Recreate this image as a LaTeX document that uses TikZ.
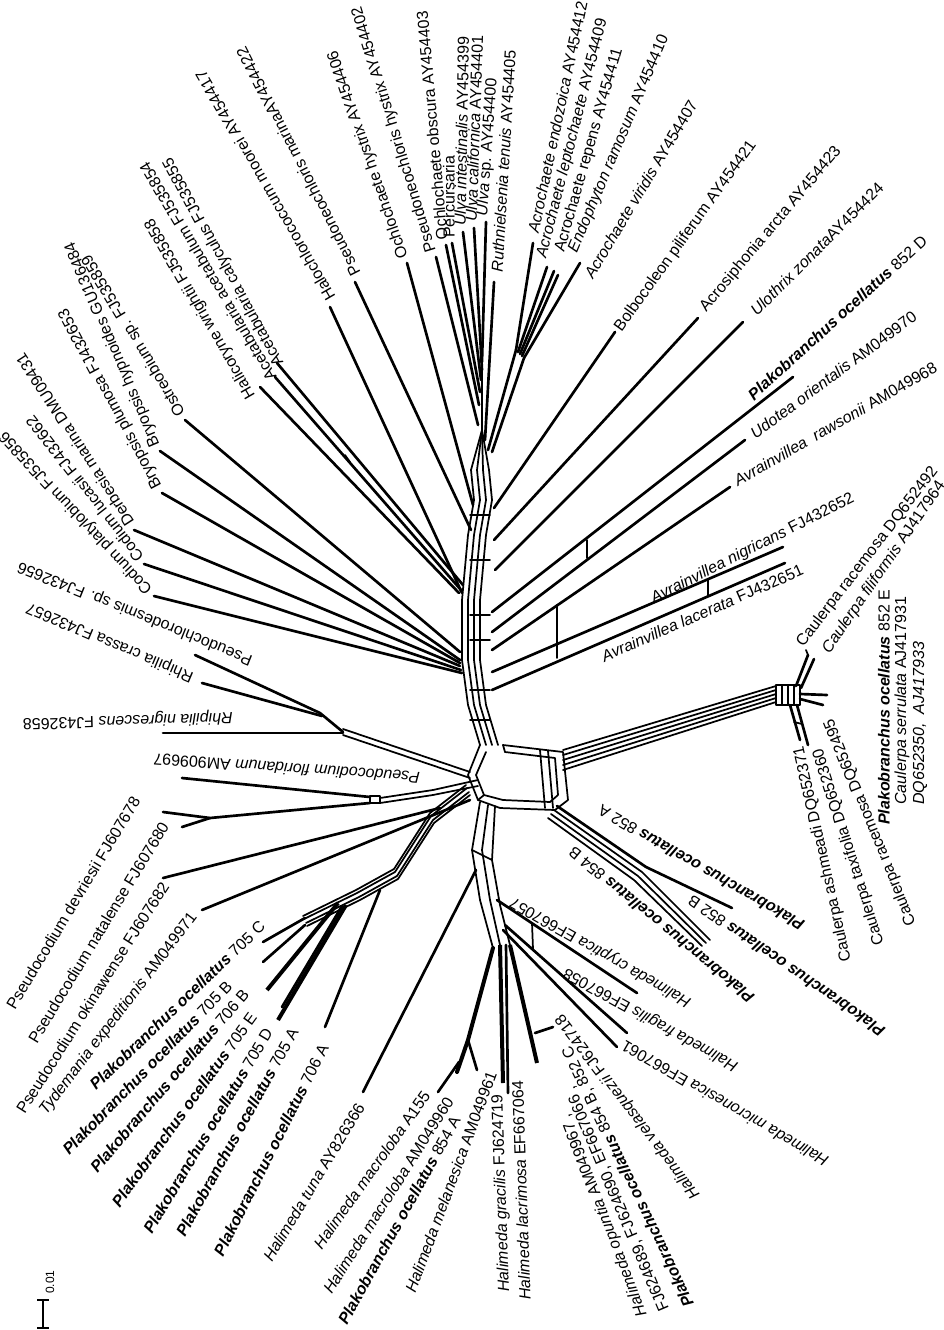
\documentclass[tikz,border=0pt]{standalone}
\usepackage{fontspec}
\setmainfont{Liberation Sans}
\newcommand{\plak}{\textbf{\textit{Plakobranchus ocellatus}}}
\newcommand{\leaflabel}[4]{\node[lbl,rotate=#3] (#1) at (#2) {#4};}
\begin{document}
\begin{tikzpicture}[x=0.75pt,y=-0.75pt,
  edge/.style={line width=2pt,line cap=round,line join=round},
  net/.style={line width=1.3pt,line cap=round,line join=round},
  lbl/.style={anchor=west,inner sep=0pt,font=\fontsize{12}{14}\selectfont}]
\fill[white] (0,0) rectangle (944,1330);
\useasboundingbox (0,0) rectangle (944,1330);

% ---------------- central spine (bundle of parallel splits)
\draw[edge] (482,360) -- (482,430);
\foreach \s in {-10,-4,2,8}{
  \draw[net] (482,430) -- (481+\s,470);
  \draw[net,shift={(\s,0)}] (481,470) -- (484,500) -- (478,535) -- (472,600) -- (472,660) -- (478,705) -- (490,745);
}
\foreach \y in {515,560,615,640,690,720}{\draw[net] (470,\y) -- (490,\y);}

% ---------------- top fan
\draw[edge] (330,307) -- (462,593);
\draw[edge] (355,282) -- (471,530);
\draw[edge] (407,263) -- (473,505);
\draw[edge] (436,257) -- (478,425);
\draw[edge] (446,245) -- (479,405);
\draw[edge] (452,243) -- (480,392);
\draw[edge] (463,232) -- (481,380);
\draw[edge] (474,228) -- (482,370);
\draw[edge] (486,222) -- (482,362);
\draw[edge] (494,282) -- (485,440);
\draw[edge] (533,243) -- (516,350);
\draw[edge] (547,267) -- (518,352);
\draw[edge] (554,271) -- (520,354);
\draw[edge] (558,275) -- (522,356);
\draw[edge] (580,263) -- (524,358);
\draw[edge] (516,350) -- (488,450);
\draw[edge] (524,358) -- (492,452);
\draw[edge] (615,332) -- (494,508);
\draw[edge] (698,318) -- (494,540);
\draw[edge] (743,322) -- (495,570);
\draw[edge] (793,377) -- (492,612);
\draw[edge] (745,440) -- (492,632);
\draw[edge] (730,487) -- (492,650);
\draw[edge] (783,547) -- (492,672);
\draw[edge] (785,563) -- (492,690);
\draw[net] (708,579) -- (708,596);
\draw[net] (557,605) -- (557,658);
\draw[net] (587,540) -- (587,558);

% ---------------- upper left (Bryopsidales, Dasycladales)
\draw[edge] (260,387) -- (459,593);
\draw[edge] (275,377) -- (461,590);
\draw[edge] (277,363) -- (463,585);
\draw[net] (345,455) -- (350,462);
\draw[edge] (185,420) -- (460,652);
\draw[edge] (160,451) -- (460,660);
\draw[edge] (162,493) -- (460,663);
\draw[edge] (134,530) -- (460,666);
\draw[edge] (144,564) -- (461,670);
\draw[edge] (154,596) -- (462,673);

% ---------------- centre
\draw[net] (480,745) -- (468,775) -- (478,800) -- (500,808) -- (555,810) -- (568,800) -- (563,752) -- (503,745);
\draw[net] (486,752) -- (476,775) -- (484,795) -- (503,800) -- (550,802) -- (558,795) -- (555,758) -- (505,752);
\draw[net] (540,750) -- (545,808);
\draw[net] (548,751) -- (553,808);
\draw[net] (503,745) -- (505,752);
\draw[net] (478,800) -- (484,795);

% ---------------- Caulerpa branch
\foreach \k in {0,...,4}{\draw[net] (563,750+5*\k) -- (776,686+4*\k);}
\draw[net] (776,685) rectangle (800,705);
\foreach \x in {782,788,794}{\draw[net] (\x,685) -- (\x,705);}
\draw[edge] (796,686) -- (808,655);
\draw[edge] (801,688) -- (814,659);
\draw[net] (806,650) -- (808,655);
\draw[edge] (800,694) -- (827,695);
\draw[edge] (800,699) -- (823,705);
\draw[edge] (790,705) -- (800,740);
\draw[edge] (797,705) -- (808,745);
\draw[net] (794,722) -- (802,724);

% ---------------- Plakobranchus 852/854 branch
\draw[edge] (557,806) -- (646,867) -- (732,908);
\draw[net] (554,810) -- (642,872) -- (710,940);
\draw[net] (551,814) -- (638,876) -- (706,943);
\draw[net] (548,818) -- (634,880) -- (702,946);

% ---------------- Halimeda trunk
\draw[net] (480,802) -- (472,850) -- (480,900) -- (493,948);
\draw[net] (488,805) -- (482,850) -- (490,900) -- (500,945);
\draw[net] (495,806) -- (492,860) -- (500,905) -- (510,945);
\draw[net] (472,850) -- (492,860);
\draw[line width=3pt,line cap=round] (493,948) -- (468,1040) -- (457,1072);
\draw[edge] (468,1040) -- (477,1070);
\draw[edge] (459,1062) -- (438,1092);
\draw[line width=3pt] (500,945) -- (503,1083);
\draw[edge] (506,945) -- (508,1093);
\draw[line width=3pt] (510,945) -- (537,1063);
\draw[edge] (535,1033) -- (553,1027);
\draw[edge] (476,870) -- (363,1092);
\draw[edge] (497,900) -- (637,993);
\draw[edge] (505,925) -- (627,1033);
\draw[edge] (503,930) -- (617,1047);
\draw[net] (532,923) -- (533,949);

% ---------------- Plakobranchus 705/706 branch
\foreach \dx/\dy in {-2/-5,-1/-2,1/2,2/5}{
  \draw[net,shift={(\dx,\dy)}] (468,790) -- (432,818) -- (396,874) -- (358,895) -- (305,921);
}
\draw[edge] (305,918) -- (263,942);
\draw[edge] (305,925) -- (263,962);
\draw[line width=3pt] (338,903) -- (267,990);
\draw[edge] (342,906) -- (282,1007);
\draw[line width=3pt] (346,905) -- (278,1020);
\draw[edge] (380,890) -- (325,1027);

% ---------------- Pseudocodium, Tydemania
\draw[net] (478,780) -- (433,790) -- (380,798);
\draw[net] (478,786) -- (433,795) -- (380,803);
\draw[net] (370,796) rectangle (380,803);
\draw[edge] (370,797) -- (182,778);
\draw[edge] (370,803) -- (210,818) -- (163,812);
\draw[edge] (210,818) -- (182,827);
\draw[edge] (440,808) -- (163,878);
\draw[edge] (470,800) -- (202,910);

% ---------------- Rhipilia, Pseudochlorodesmis
\draw[net] (470,772) -- (343,729);
\draw[net] (470,778) -- (343,735);
\draw[edge] (343,732) -- (320,713) -- (195,655);
\draw[edge] (322,716) -- (202,683);
\draw[edge] (343,733) -- (163,733);

% ---------------- scale bar
\draw[line width=1.6pt] (43,1300) -- (43,1328);
\draw[line width=1.6pt] (37,1300) -- (49,1300);
\draw[line width=1.6pt] (37,1328) -- (49,1328);
\node[inner sep=0pt,rotate=90,font=\fontsize{9}{10}\selectfont] (scale) at (50,1282) {0.01};

% ---------------- labels
\leaflabel{n1}{331,300}{120}{Halochlorococcum moorei AY454417}
\leaflabel{n2}{356,275}{117}{Pseudoneochloris marinaAY454422}
\leaflabel{n3}{404,258}{109}{Ochlochaete hystrix AY454406}
\leaflabel{n4}{432,252}{107}{Pseudoneochloris hystrix AY454402}
\leaflabel{n5}{442,240}{95}{Ochlochaete obscura AY454403}
\leaflabel{n6}{449,238}{90}{Percursaria}
\leaflabel{n7}{460,226}{89}{\textit{Ulva intestinalis} AY454399}
\leaflabel{n8}{471,222}{88}{\textit{Ulva californica} AY454401}
\leaflabel{n9}{483,216}{86}{\textit{Ulva} sp. AY454400}
\leaflabel{n10}{497,272}{86.6}{\textit{Ruthnielsenia tenuis} AY454405}
\leaflabel{n11}{533,233}{78}{\textit{Acrochaete endozoica} AY454412}
\leaflabel{n12}{542,258}{75.7}{\textit{Acrochaete leptochaete} AY454409}
\leaflabel{n13}{560,252}{74}{Acrochaete repens AY454411}
\leaflabel{n14}{573,252}{67}{\textit{Endophyton ramosum} AY454410}
\leaflabel{n15}{588,277}{59}{\textit{Acrochaete viridis} AY454407}
\leaflabel{n16}{618,330}{54.2}{Bolbocoleon piliferum AY454421}
\leaflabel{n17}{703,310}{50}{Acrosiphonia arcta AY454423}
\leaflabel{n18}{753,313}{45}{\textit{Ulothrix zonata}AY454424}
\leaflabel{n19}{750,397}{42.3}{\plak{} 852 D}
\leaflabel{n20}{752,435}{36.5}{\textit{Udotea orientalis} AM049970}
\leaflabel{n21}{735,482}{30}{\textit{Avrainvillea}~\ \textit{rawsonii} AM049968}
\leaflabel{n22}{652,600}{27}{\textit{Avrainvillea nigricans} FJ432652}
\leaflabel{n23}{602,657}{23.7}{\textit{Avrainvillea lacerata} FJ432651}
\leaflabel{n24}{800,645}{52.5}{Caulerpa racemosa DQ652492}
\leaflabel{n25}{826,652}{55.5}{\textit{Caulerpa filiformis} AJ417964}
\leaflabel{n26}{884,825}{90}{\plak{} 852 E}
\leaflabel{n27}{902,805}{90}{\textit{Caulerpa serrulata} AJ417931}
\leaflabel{n28}{920,805}{90}{\textit{DQ652350,~\ AJ417933}}
\leaflabel{n29}{847,962}{102.5}{Caulerpa ashmeadi DQ652371}
\leaflabel{n30}{880,945}{107.5}{Caulerpa taxifolia DQ652360}
\leaflabel{n31}{912,925}{112}{Caulerpa racemosa DQ652495}
\leaflabel{n32}{803,927}{150}{\plak{} 852 A}
\leaflabel{n33}{752,1000}{140.5}{\plak{} 854 B}
\leaflabel{n34}{883,1033}{145.4}{\plak{} 852 B}
\leaflabel{n35}{690,1003}{150.2}{\textit{Halimeda cryptica} EF667057}
\leaflabel{n36}{737,1067}{151}{\textit{Halimeda fragilis} EF667058}
\leaflabel{n37}{827,1163}{150}{\textit{Halimeda micronesica} EF667061}
\leaflabel{n38}{697,1197}{127.3}{\textit{Halimeda velasquezii} FJ624718}
\leaflabel{n39}{690,1306}{115.5}{\plak{} 854 B, 852 C}
\leaflabel{n40}{665,1311}{113}{FJ624689, FJ624690, EF667066 ,}
\leaflabel{n41}{643,1316}{111}{\textit{Halimeda opuntia} AM049967 ,}
\leaflabel{n42}{525,1300}{92}{\textit{Halimeda lacrimosa} EF667064}
\leaflabel{n43}{505,1292}{92}{\textit{Halimeda gracilis} FJ624719}
\leaflabel{n44}{410,1292}{69.6}{\textit{Halimeda melanesica} AM049961}
\leaflabel{n45}{342,1323}{61}{\plak{} 854 A}
\leaflabel{n46}{327,1292}{57.6}{\textit{Halimeda macroloba} AM049960}
\leaflabel{n47}{317,1247}{54.6}{\textit{Halimeda macroloba} A155}
\leaflabel{n48}{267,1260}{59}{\textit{Halimeda tuna} AY826366}
\leaflabel{n49}{218,1255}{63.2}{\plak{} 706 A}
\leaflabel{n50}{180,1235}{61}{\plak{} 705 A}
\leaflabel{n51}{147,1232}{59}{\plak{} 705 D}
\leaflabel{n52}{115,1205}{54}{\plak{} 705 E}
\leaflabel{n53}{93,1170}{49.5}{\plak{} 706 B}
\leaflabel{n54}{65,1152}{45.7}{\plak{} 705 B}
\leaflabel{n55}{92,1087}{43.8}{\plak{} 705 C}
\leaflabel{n56}{43,1113}{52.6}{\textit{Tydemania expeditionis} AM049971}
\leaflabel{n57}{20,1112}{57.6}{Pseudocodium okinawense FJ607682}
\leaflabel{n58}{32,1042}{58.7}{Pseudocodium natalense FJ607680}
\leaflabel{n59}{10,1008}{59}{Pseudocodium devriesii FJ607678}
\leaflabel{n60}{420,778}{176}{\textit{Pseudocodium floridanum} AM909697}
\leaflabel{n61}{233,717}{181.7}{\textit{Rhipilia nigrescens} FJ432658}
\leaflabel{n62}{193,677}{157}{Rhipilia crassa FJ432657}
\leaflabel{n63}{252,660}{158}{Pseudochlorodesmis sp. FJ432656}
\leaflabel{n64}{150,592}{133}{Codium platylobium FJ535856}
\leaflabel{n65}{140,560}{128}{Codium lucasii FJ432662}
\leaflabel{n66}{130,525}{123}{Derbesia marina DMU09431}
\leaflabel{n67}{158,488}{118}{Bryopsis plumosa FJ432653}
\leaflabel{n68}{156,446}{113}{Bryopsis hypnoides GU136484}
\leaflabel{n69}{182,415}{121}{Ostreobium sp. FJ535859}
\leaflabel{n70}{252,398}{120}{Halicoryne wrightii FJ535858}
\leaflabel{n71}{272,380}{120.7}{Acetabularia acetabulum FJ535854}
\leaflabel{n72}{280,365}{118.6}{Acetabularia calyculus FJ535855}
\end{tikzpicture}
\end{document}
